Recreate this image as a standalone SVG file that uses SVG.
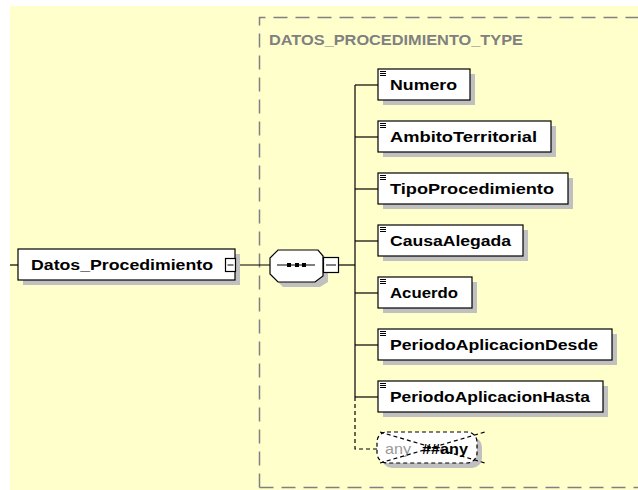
<svg xmlns="http://www.w3.org/2000/svg" width="638" height="490" viewBox="0 0 638 490">
<defs>
<style>
.bg{fill:#ffffcc}
.shadow{fill:#c0c0c0}
.box{fill:#ffffff;stroke:#000000;stroke-width:1.2}
.lbl{font-family:"Liberation Sans",Arial,sans-serif;font-weight:bold;font-size:14px;fill:#000000}
.ttl{font-family:"Liberation Sans",Arial,sans-serif;font-weight:bold;font-size:14px;fill:#808080}
.ln{stroke:#000000;stroke-width:1.2;fill:none}
.dln{stroke:#000000;stroke-width:1.2;fill:none;stroke-dasharray:4 3}
.icon{stroke:#000000;stroke-width:1}
</style>
</defs>
<rect x="0" y="0" width="638" height="490" fill="#ffffff"/>
<rect class="bg" x="10" y="6" width="628" height="484"/>
<g id="type-frame">
<path d="M259.5,487.5 V17.5 H640 M259.5,487.5 H640" fill="none" stroke="#808080" stroke-width="1.5" stroke-dasharray="14 8"/>
<text class="ttl" x="269" y="45" textLength="254" lengthAdjust="spacingAndGlyphs">DATOS_PROCEDIMIENTO_TYPE</text>
</g>
<g id="connectors">
<line class="ln" x1="10" y1="265" x2="18" y2="265"/>
<line class="ln" x1="236" y1="265" x2="270" y2="265"/>
<line class="ln" x1="339" y1="265" x2="355" y2="265"/>
<line class="ln" x1="355" y1="85" x2="355" y2="397"/>
<line class="ln" x1="355" y1="85" x2="378" y2="85"/>
<line class="ln" x1="355" y1="137" x2="378" y2="137"/>
<line class="ln" x1="355" y1="189" x2="378" y2="189"/>
<line class="ln" x1="355" y1="241" x2="378" y2="241"/>
<line class="ln" x1="355" y1="293" x2="378" y2="293"/>
<line class="ln" x1="355" y1="345" x2="378" y2="345"/>
<line class="ln" x1="355" y1="397" x2="378" y2="397"/>
<path class="dln" d="M355,397 V449 H378"/>
</g>
<g id="Datos_Procedimiento">
<rect class="shadow" x="23" y="254" width="217" height="31"/>
<rect class="box" x="18" y="249" width="217" height="31"/>
<text class="lbl" x="31" y="270" textLength="182" lengthAdjust="spacingAndGlyphs">Datos_Procedimiento</text>
<rect class="box" x="225.5" y="258.5" width="10" height="13"/>
<line class="icon" x1="227.5" y1="265" x2="233.5" y2="265"/>
</g>
<g id="sequence">
<polygon class="shadow" points="283,255 323,255 328,261 328,282 320,287 283,287 275,279 275,263"/>
<polygon class="box" points="278,250 318,250 323,256 323,276 315,282 278,282 270,274 270,258"/>
<line class="ln" x1="277" y1="265" x2="315" y2="265"/>
<rect x="287" y="263" width="4" height="4" fill="#000"/>
<rect x="295" y="263" width="4" height="4" fill="#000"/>
<rect x="302" y="263" width="4" height="4" fill="#000"/>
<rect class="box" x="323.5" y="257.5" width="15" height="15"/>
<line class="icon" x1="326" y1="265" x2="336" y2="265"/>
</g>
<g id="Numero">
<rect class="shadow" x="383" y="74" width="92" height="31"/>
<rect class="box" x="378" y="69" width="92" height="31"/>
<path class="icon" d="M380,71.5 H386 M380,73.5 H386 M380,75.5 H386"/>
<text class="lbl" x="390" y="90" textLength="67" lengthAdjust="spacingAndGlyphs">Numero</text>
</g>
<g id="AmbitoTerritorial">
<rect class="shadow" x="383" y="126" width="173" height="31"/>
<rect class="box" x="378" y="121" width="173" height="31"/>
<path class="icon" d="M380,123.5 H386 M380,125.5 H386 M380,127.5 H386"/>
<text class="lbl" x="390" y="142" textLength="147" lengthAdjust="spacingAndGlyphs">AmbitoTerritorial</text>
</g>
<g id="TipoProcedimiento">
<rect class="shadow" x="383" y="178" width="190" height="31"/>
<rect class="box" x="378" y="173" width="190" height="31"/>
<path class="icon" d="M380,175.5 H386 M380,177.5 H386 M380,179.5 H386"/>
<text class="lbl" x="390" y="194" textLength="164" lengthAdjust="spacingAndGlyphs">TipoProcedimiento</text>
</g>
<g id="CausaAlegada">
<rect class="shadow" x="383" y="230" width="145" height="31"/>
<rect class="box" x="378" y="225" width="145" height="31"/>
<path class="icon" d="M380,227.5 H386 M380,229.5 H386 M380,231.5 H386"/>
<text class="lbl" x="390" y="246" textLength="121" lengthAdjust="spacingAndGlyphs">CausaAlegada</text>
</g>
<g id="Acuerdo">
<rect class="shadow" x="383" y="282" width="94" height="31"/>
<rect class="box" x="378" y="277" width="94" height="31"/>
<path class="icon" d="M380,279.5 H386 M380,281.5 H386 M380,283.5 H386"/>
<text class="lbl" x="390" y="298" textLength="68" lengthAdjust="spacingAndGlyphs">Acuerdo</text>
</g>
<g id="PeriodoAplicacionDesde">
<rect class="shadow" x="383" y="334" width="234" height="31"/>
<rect class="box" x="378" y="329" width="234" height="31"/>
<path class="icon" d="M380,331.5 H386 M380,333.5 H386 M380,335.5 H386"/>
<text class="lbl" x="390" y="350" textLength="208" lengthAdjust="spacingAndGlyphs">PeriodoAplicacionDesde</text>
</g>
<g id="PeriodoAplicacionHasta">
<rect class="shadow" x="383" y="386" width="225" height="31"/>
<rect class="box" x="378" y="381" width="225" height="31"/>
<path class="icon" d="M380,383.5 H386 M380,385.5 H386 M380,387.5 H386"/>
<text class="lbl" x="390" y="402" textLength="200" lengthAdjust="spacingAndGlyphs">PeriodoAplicacionHasta</text>
</g>
<g id="any">
<rect class="shadow" x="382" y="437" width="100" height="31" rx="10"/>
<rect x="377" y="432" width="100" height="31" rx="10" fill="#ffffff" stroke="#000" stroke-width="1.2" stroke-dasharray="4 3"/>
<text x="385" y="454" font-family="'Liberation Sans',Arial,sans-serif" font-size="15" fill="#999999" textLength="26" lengthAdjust="spacingAndGlyphs">any</text>
<text x="422" y="454" font-family="'Liberation Sans',Arial,sans-serif" font-size="15" font-weight="bold" fill="#000000" textLength="46" lengthAdjust="spacingAndGlyphs">##any</text>
<path d="M380,432 L485,463 M380,463 L485,432" stroke="#000" stroke-width="1.2" stroke-dasharray="4 3" fill="none"/>
</g>
</svg>
